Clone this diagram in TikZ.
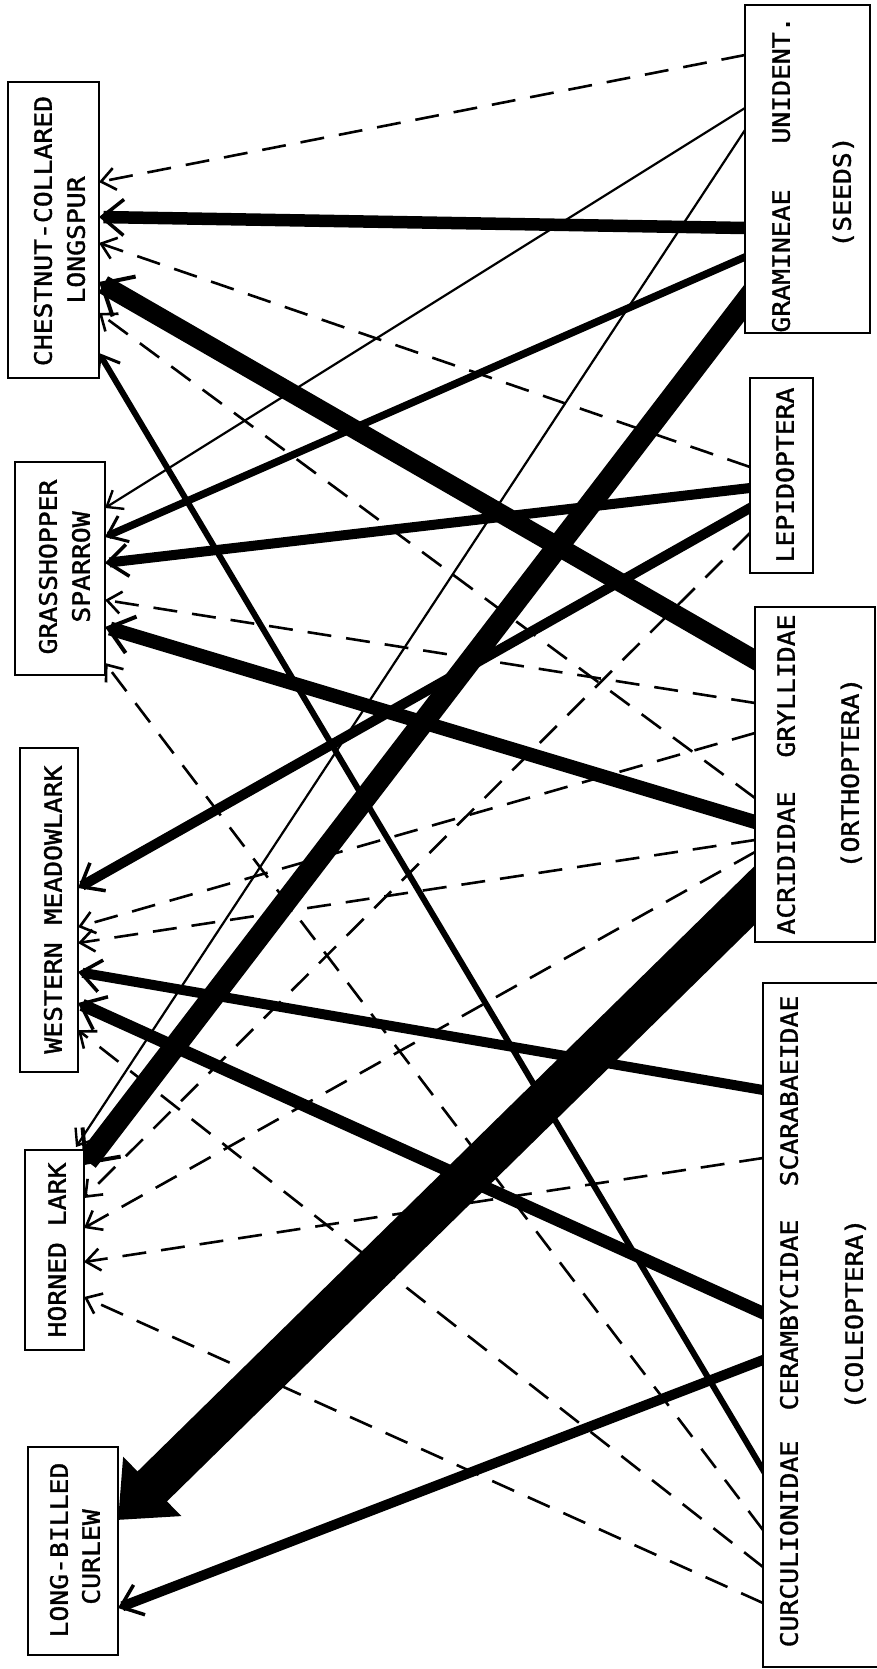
\documentclass[tikz,border=0pt]{standalone}
\usepackage{fontspec}
\newfontfamily\labfont[FakeStretch=1.1,FakeBold=1.5]{DejaVu Sans Mono}
\usetikzlibrary{arrows.meta,backgrounds}
\tikzset{
  box/.style={draw, line width=2.8pt, fill=white, inner sep=0pt, outer sep=0pt, anchor=north west},
  lab/.style={font=\labfont\fontsize{24pt}{28pt}\selectfont, rotate=90, inner sep=0pt, outer sep=0pt, text height=17.5pt, text depth=0pt, anchor=center},
  lnk/.style={draw, line cap=butt, line join=miter},
  dsh/.style={lnk, line width=2.6pt, dash pattern=on 24pt off 15pt, -{Straight Barb[length=14pt, width=22pt, line width=2.6pt]}},
  thn/.style={lnk, line width=2.2pt, -{Straight Barb[length=14pt, width=22pt, line width=2.4pt]}},
  wa/.style={lnk, line width=6pt, shorten <=-6pt, -{Straight Barb[length=17pt, width=26pt, line width=3pt]}},
  wb/.style={lnk, line width=7.5pt, shorten <=-6pt, -{Straight Barb[length=18pt, width=28pt, line width=3pt]}},
  wc/.style={lnk, line width=10pt, shorten <=-8pt, -{Straight Barb[length=20pt, width=32pt, line width=3.5pt]}},
  wd/.style={lnk, line width=12.5pt, shorten <=-8pt, -{Straight Barb[length=22pt, width=36pt, line width=3.5pt]}},
  we/.style={lnk, line width=14pt, shorten <=-10pt, -{Straight Barb[length=24pt, width=38pt, line width=4pt]}},
  wf/.style={lnk, line width=19pt, shorten <=-14pt, -{Straight Barb[length=26pt, width=46pt, line width=4pt]}},
  wg/.style={lnk, line width=22pt, shorten <=-16pt, -{Straight Barb[length=26pt, width=48pt, line width=4pt]}},
  wh/.style={lnk, line width=42pt, shorten <=-32pt, -{Triangle[length=48pt, width=80pt]}}
}
\begin{document}
\begin{tikzpicture}[x=1pt, y=-1pt]
\path[use as bounding box] (0,0) rectangle (877,1669);
\clip (0,0) rectangle (877,1669);

% bird boxes
\node[box, minimum width=91pt, minimum height=296pt] (ccl) at (8,82) {};
\node[box, minimum width=90pt, minimum height=213pt] (gs) at (15,462) {};
\node[box, minimum width=58pt, minimum height=324pt] (wm) at (20,748) {};
\node[box, minimum width=59pt, minimum height=200pt] (hl) at (25,1150) {};
\node[box, minimum width=90pt, minimum height=208pt] (lbc) at (28,1447) {};
% prey boxes
\node[box, minimum width=125pt, minimum height=328pt] (gram) at (745,5) {};
\node[box, minimum width=63pt, minimum height=195pt] (lep) at (750,378) {};
\node[box, minimum width=120pt, minimum height=335pt] (orth) at (755,607) {};
\node[box, minimum width=130pt, minimum height=684pt] (col) at (763,983) {};

\begin{scope}[on background layer]
\fill[white] (0,0) rectangle (877,1669);
% Gramineae / unident. seeds
\draw[dsh] ([yshift=-50pt]gram.north west) -- ([yshift=-100pt]ccl.north east);
\draw[thn] ([yshift=-103pt]gram.north west) -- ([yshift=-46pt]gs.north east);
\draw[thn] ([yshift=-125pt]gram.north west) -- ([xshift=-8pt,yshift=3pt]hl.north east);
\draw[wd] ([yshift=-223pt]gram.north west) -- ([yshift=-135pt]ccl.north east);
\draw[wb] ([yshift=-252pt]gram.north west) -- ([yshift=-75pt]gs.north east);
\draw[wg] ([yshift=-297pt]gram.north west) -- ([yshift=-15pt]hl.north east);
% Lepidoptera
\draw[dsh] ([yshift=-89pt]lep.north west) -- ([yshift=-161pt]ccl.north east);
\draw[wc] ([yshift=-110pt]lep.north west) -- ([yshift=-101pt]gs.north east);
\draw[wc] ([yshift=-130pt]lep.north west) -- ([yshift=-140pt]wm.north east);
\draw[dsh] ([yshift=-155pt]lep.north west) -- ([yshift=-48pt]hl.north east);
% Gryllidae / Acrididae
\draw[wf] ([yshift=-53pt]orth.north west) -- ([yshift=-200pt]ccl.north east);
\draw[dsh] ([yshift=-96pt]orth.north west) -- ([yshift=-138pt]gs.north east);
\draw[dsh] ([yshift=-126pt]orth.north west) -- ([yshift=-179pt]wm.north east);
\draw[dsh] ([yshift=-191pt]orth.north west) -- ([yshift=-231pt]ccl.north east);
\draw[we] ([yshift=-215pt]orth.north west) -- ([yshift=-165pt]gs.north east);
\draw[dsh] ([yshift=-233pt]orth.north west) -- ([yshift=-195pt]wm.north east);
\draw[dsh] ([yshift=-245pt]orth.north west) -- ([yshift=-78pt]hl.north east);
\draw[wh] ([yshift=-288pt]orth.north west) -- ([yshift=-73pt]lbc.north east);
% Coleoptera
\draw[wc] ([yshift=-107pt]col.north west) -- ([yshift=-224pt]wm.north east);
\draw[dsh] ([yshift=-175pt]col.north west) -- ([yshift=-112pt]hl.north east);
\draw[wd] ([yshift=-330pt]col.north west) -- ([yshift=-255pt]wm.north east);
\draw[wc] ([yshift=-377pt]col.north west) -- ([yshift=-161pt]lbc.north east);
\draw[wa] ([yshift=-487pt]col.north west) -- ([yshift=-271pt]ccl.north east);
\draw[dsh] ([yshift=-547pt]col.north west) -- ([yshift=-201pt]gs.north east);
\draw[dsh] ([yshift=-584pt]col.north west) -- ([yshift=-282pt]wm.north east);
\draw[dsh] ([yshift=-620pt]col.north west) -- ([yshift=-147pt]hl.north east);
\end{scope}

% labels
\node[lab] (t1) at (43,231) {CHESTNUT-COLLARED};
\node[lab] (t2) at (76,240) {LONGSPUR};
\node[lab] (t3) at (48,567) {GRASSHOPPER};
\node[lab] (t4) at (81,567) {SPARROW};
\node[lab] (t5) at (53,845) {MEADOWLARK};
\node[lab] (t6) at (53,998) {WESTERN};
\node[lab] (t7) at (57,1250) {HORNED LARK};
\node[lab] (t8) at (59,1550) {LONG-BILLED};
\node[lab] (t9) at (91,1557) {CURLEW};
\node[lab] (t10) at (781,261) {GRAMINEAE};
\node[lab] (t11) at (781,80) {UNIDENT.};
\node[lab] (t12) at (842,192) {(SEEDS)};
\node[lab] (t13) at (785,475) {LEPIDOPTERA};
\node[lab] (t14) at (786,686) {GRYLLIDAE};
\node[lab] (t15) at (786,863) {ACRIDIDAE};
\node[lab] (t16) at (850,773) {(ORTHOPTERA)};
\node[lab] (t17) at (789,1091) {SCARABAEIDAE};
\node[lab] (t18) at (789,1315) {CERAMBYCIDAE};
\node[lab] (t19) at (789,1544) {CURCULIONIDAE};
\node[lab] (t20) at (854,1314) {(COLEOPTERA)};
\end{tikzpicture}
\end{document}
